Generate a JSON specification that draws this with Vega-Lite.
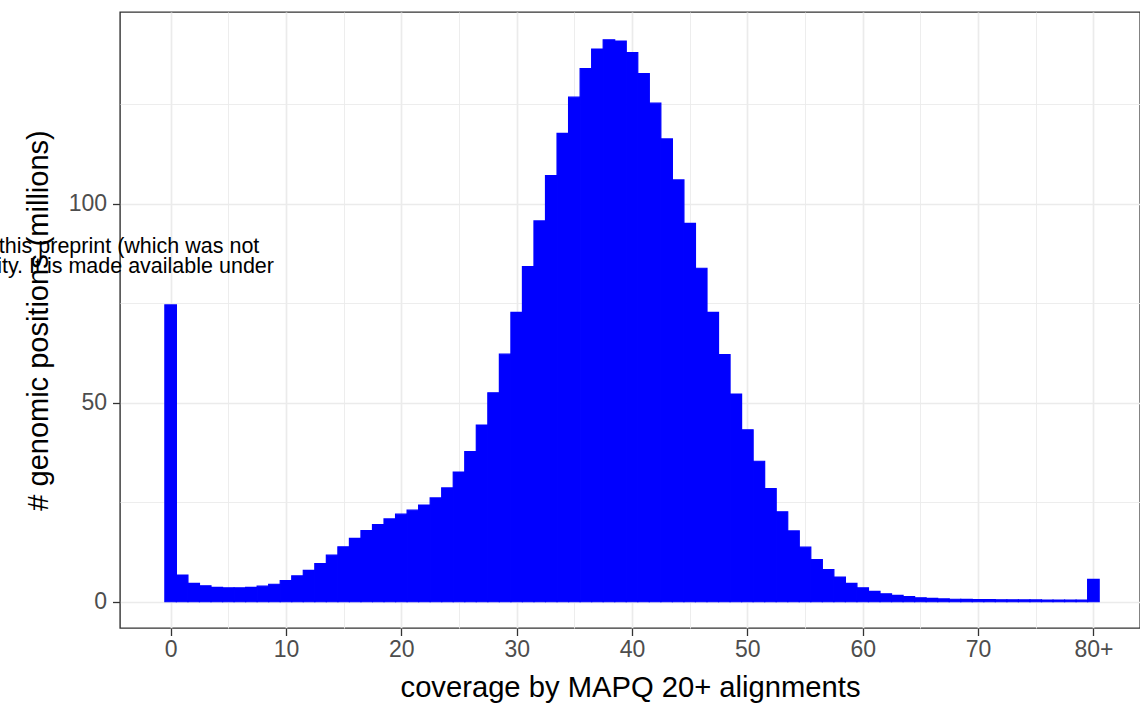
{
  "$schema": "https://vega.github.io/schema/vega-lite/v6.json",
  "width": 1020,
  "height": 616,
  "autosize": {"type": "none"},
  "padding": {"left": 120, "top": 12, "right": 0, "bottom": 75},
  "background": "white",
  "config": {
    "view": {"stroke": "#333333", "strokeWidth": 1.4},
    "font": "Liberation Sans",
    "axis": {"domain": false, "gridColor": "#EBEBEB"}
  },
  "datasets": {
    "hist": [
      {"coverage": 0, "millions": 74.6}, {"coverage": 1, "millions": 6.7}, {"coverage": 2, "millions": 4.6},
      {"coverage": 3, "millions": 4.0}, {"coverage": 4, "millions": 3.6}, {"coverage": 5, "millions": 3.5},
      {"coverage": 6, "millions": 3.5}, {"coverage": 7, "millions": 3.6}, {"coverage": 8, "millions": 3.9},
      {"coverage": 9, "millions": 4.4}, {"coverage": 10, "millions": 5.3}, {"coverage": 11, "millions": 6.5},
      {"coverage": 12, "millions": 7.9}, {"coverage": 13, "millions": 9.6}, {"coverage": 14, "millions": 11.7},
      {"coverage": 15, "millions": 13.8}, {"coverage": 16, "millions": 15.9}, {"coverage": 17, "millions": 17.9},
      {"coverage": 18, "millions": 19.4}, {"coverage": 19, "millions": 20.8}, {"coverage": 20, "millions": 22.0},
      {"coverage": 21, "millions": 23.0}, {"coverage": 22, "millions": 24.3}, {"coverage": 23, "millions": 26.1},
      {"coverage": 24, "millions": 28.6}, {"coverage": 25, "millions": 32.6}, {"coverage": 26, "millions": 37.7},
      {"coverage": 27, "millions": 44.4}, {"coverage": 28, "millions": 52.5}, {"coverage": 29, "millions": 62.2},
      {"coverage": 30, "millions": 72.7}, {"coverage": 31, "millions": 84.2}, {"coverage": 32, "millions": 95.7},
      {"coverage": 33, "millions": 107.1}, {"coverage": 34, "millions": 117.7}, {"coverage": 35, "millions": 126.8},
      {"coverage": 36, "millions": 134.0}, {"coverage": 37, "millions": 138.9}, {"coverage": 38, "millions": 141.2},
      {"coverage": 39, "millions": 140.9}, {"coverage": 40, "millions": 138.0}, {"coverage": 41, "millions": 132.7},
      {"coverage": 42, "millions": 125.3}, {"coverage": 43, "millions": 116.3}, {"coverage": 44, "millions": 106.0},
      {"coverage": 45, "millions": 95.1}, {"coverage": 46, "millions": 83.8}, {"coverage": 47, "millions": 72.7},
      {"coverage": 48, "millions": 62.1}, {"coverage": 49, "millions": 52.2}, {"coverage": 50, "millions": 43.2},
      {"coverage": 51, "millions": 35.3}, {"coverage": 52, "millions": 28.4}, {"coverage": 53, "millions": 22.6},
      {"coverage": 54, "millions": 17.8}, {"coverage": 55, "millions": 13.7}, {"coverage": 56, "millions": 10.6},
      {"coverage": 57, "millions": 8.1}, {"coverage": 58, "millions": 6.2}, {"coverage": 59, "millions": 4.6},
      {"coverage": 60, "millions": 3.5}, {"coverage": 61, "millions": 2.6}, {"coverage": 62, "millions": 2.0},
      {"coverage": 63, "millions": 1.6}, {"coverage": 64, "millions": 1.26}, {"coverage": 65, "millions": 1.0},
      {"coverage": 66, "millions": 0.84}, {"coverage": 67, "millions": 0.7}, {"coverage": 68, "millions": 0.62},
      {"coverage": 69, "millions": 0.58}, {"coverage": 70, "millions": 0.55}, {"coverage": 71, "millions": 0.52},
      {"coverage": 72, "millions": 0.5}, {"coverage": 73, "millions": 0.48}, {"coverage": 74, "millions": 0.46},
      {"coverage": 75, "millions": 0.45}, {"coverage": 76, "millions": 0.44}, {"coverage": 77, "millions": 0.43},
      {"coverage": 78, "millions": 0.42}, {"coverage": 79, "millions": 0.41}, {"coverage": 80, "millions": 5.6}
    ],
    "note": [
      {"line": "this preprint (which was not", "cx": 7.69, "cy": 87.7},
      {"line": "ity. It is made available under", "cx": 8.96, "cy": 82.7}
    ]
  },
  "resolve": {"axis": {"x": "independent", "y": "independent"}},
  "layer": [
    {
      "data": {"name": "hist"},
      "mark": {"type": "point", "opacity": 0},
      "encoding": {
        "x": {
          "field": "coverage", "type": "quantitative",
          "scale": {"domain": [-4.39, 84.04], "nice": false, "zero": false, "padding": 0},
          "axis": {"orient": "top", "values": [5, 15, 25, 35, 45, 55, 65, 75], "grid": true, "gridWidth": 0.9,
                   "labels": false, "ticks": false, "domain": false, "title": null}
        },
        "y": {
          "field": "millions", "type": "quantitative",
          "scale": {"domain": [-6.6, 148.2], "nice": false, "zero": false, "padding": 0},
          "axis": {"orient": "right", "values": [25, 75, 125], "grid": true, "gridWidth": 0.9,
                   "labels": false, "ticks": false, "domain": false, "title": null}
        }
      }
    },
    {
      "data": {"name": "hist"},
      "mark": {"type": "bar", "width": 11.535, "color": "#0000FF", "stroke": "#0000FF", "strokeWidth": 1.2},
      "encoding": {
        "x": {
          "field": "coverage", "type": "quantitative",
          "axis": {"orient": "bottom", "values": [0, 10, 20, 30, 40, 50, 60, 70, 80],
                   "labelExpr": "datum.value == 80 ? '80+' : datum.label",
                   "grid": true, "gridWidth": 1.7, "ticks": true, "tickColor": "#333333", "tickWidth": 1.3, "tickSize": 7.5,
                   "labelFontSize": 23, "labelColor": "#4D4D4D", "labelPadding": 3,
                   "title": "coverage by MAPQ 20+ alignments", "titleFontSize": 29.2, "titleFontWeight": "normal",
                   "titleColor": "#000000", "titleY": 68, "titleBaseline": "alphabetic"}
        },
        "y": {
          "field": "millions", "type": "quantitative",
          "axis": {"orient": "left", "values": [0, 50, 100],
                   "grid": true, "gridWidth": 1.7, "ticks": true, "tickColor": "#333333", "tickWidth": 1.3, "tickSize": 7.5,
                   "labelFontSize": 23, "labelColor": "#4D4D4D", "labelPadding": 6,
                   "title": "# genomic positions (millions)", "titleFontSize": 29, "titleFontWeight": "normal",
                   "titleColor": "#000000", "titleX": -73, "titleY": 308, "titleAngle": -90,
                   "titleAlign": "center", "titleBaseline": "alphabetic"}
        }
      }
    },
    {
      "data": {"name": "note"},
      "mark": {"type": "text", "align": "right", "baseline": "alphabetic", "fontSize": 21.5, "color": "#000000"},
      "encoding": {
        "x": {"field": "cx", "type": "quantitative", "axis": null},
        "y": {"field": "cy", "type": "quantitative", "axis": null},
        "text": {"field": "line"}
      }
    }
  ]
}
